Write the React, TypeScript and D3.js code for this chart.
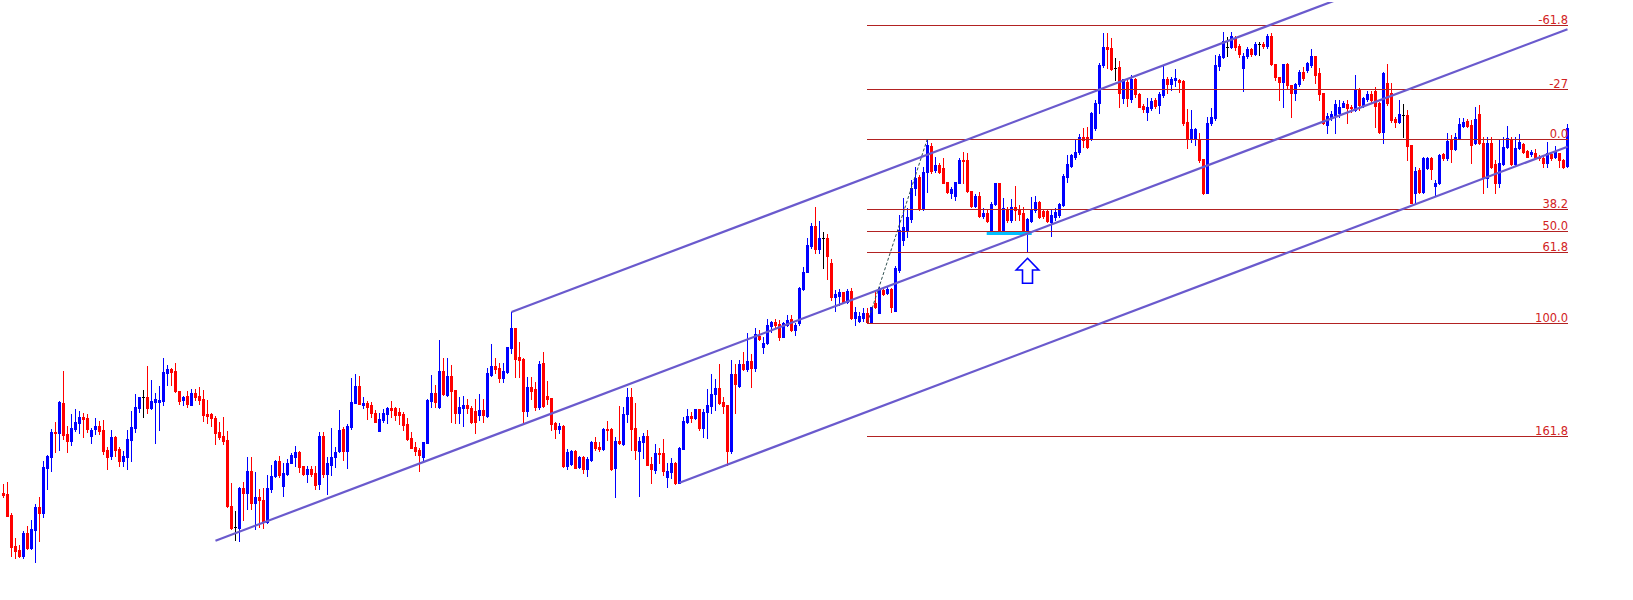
import React from 'react';
import * as d3 from 'd3';

// ---- OHLC data (price units) ----
const open = [
106.7,106,85,54,50,44.3,67.3,52.3,70.3,93,
87.3,132.3,143.3,168.3,167.3,197,166,159.3,170.7,177,
183,181.7,164.3,171.3,173.7,170,150,144.3,163,151,
139.3,143.3,160.3,172.3,192,202.7,202.7,192,198,198,
199,227.3,231,229,209,200,204,195.3,206.7,204,
201,186,186,182,168,164,160,94,72.7,71.7,
112.3,107.3,129,97.3,103,100,78,111.3,124,139,
114.3,126,137.3,143.3,148,134.3,126,131,127,116,
164.3,126,135.3,143.3,149,171,149.3,172.7,197.3,214,
195.3,196.7,195,187.3,169,180,186.3,191.7,191.7,188,
185.7,175.7,162,153,150,143.3,157.3,199,207,193,
229,204.7,224,210,187.3,192.3,195,192.3,189.3,185.3,
190,184.3,225,234,231.7,222.3,228,252.3,272,243.3,
241,189.3,212.7,210.7,192.7,236.7,204,202,177.3,171.3,
174,134,136,149,133.3,143,131,140,158,153,
151.3,171,171,131.7,159,156,185.7,203,172,149.3,
158.3,164,136,130.3,147,147,123,128.3,137,117.3,
151.3,178.3,184,181.7,191,172,187.7,194,206,212.3,
198,195,149.3,226,214,236,231.3,239,232.3,264,
252.7,256.7,274.3,278,276,263.3,275,281.3,270.3,276.7,
311,328.3,354,374,350.7,361.7,361.7,337.3,303.3,304,
307.7,298.3,309.3,281.7,279,282.3,287.3,278,297.3,287.3,
310,307.3,310.7,289.3,330,360,370,381,411.7,422.7,
391.7,428.3,454,430,435,431.7,417.7,407.3,404,417.3,
440,440,409,394,404.3,384.3,386.7,368.3,396,416.7,
366.7,390.7,380,392.7,390.7,386.7,366.7,379.3,390,398.3,
389.3,389.3,378.3,383.3,385,395,423.3,434.3,443.3,447.7,
463.3,463.3,461.7,471.7,496.7,535,553.3,551.7,531.7,532.7,
502.3,518.3,501,521,506,494,488.3,491.7,500,495,
505,520.7,516,520,520,519.3,478,460.7,461.7,461,
440.7,407.3,476.7,481.7,534.3,543.3,553.3,553.3,561.7,554,
532.3,544,550.7,546,555.7,556,554,564,535.7,522.7,
518.3,535.7,515,506.7,516,528.3,530,535,544,526.7,
506.7,475,482.7,485,486.7,493.3,496,492.7,490,510.7,
494,500.7,506,509.3,497.3,468.3,516.7,507.3,481,478.3,
485,485,455,406.7,430,408.3,432.3,442.3,414.3,416.7,
445.7,441.7,460.7,451,462.3,474,479,475,456.7,486,
457.3,421.7,457.3,436,417.3,436,452.7,460.7,436,452.3,
456,449,445.7,447.3,443.3,442.3,437.3,445.7,443.3,446.7,
440,434];

const high = [
116,118,86.7,62,55,69,74,80,96,103,
139,145,171,178,199,229,173.7,186,190.7,189.3,
186.7,186,172,181.7,179,180,153.3,170,164,153.3,
149,170,189.3,206,203.5,210,234,220,206.7,214,
241.7,235,232.3,237,209.3,204,209,211,211.3,212.7,
210.3,200,187.3,184.3,177.7,183,169.3,116.7,89,113.3,
117.7,143.3,143.3,128,111.3,111.7,125,134.7,140,144.3,
136.7,141.3,146.7,154,149,134.3,134.3,134.3,134.3,167.7,
167.7,143.3,172,153.3,190,173.3,176.3,221.7,226,224.3,
202.7,198.7,198.3,190,186.7,190.7,192.7,199,192.7,192.3,
187.7,181.7,168.3,158.3,151.7,158.3,200.7,225,215,260,
241.7,241.7,235,210.5,203.3,204,200.7,194,201,206,
200.7,232.3,256,242.3,236.7,237.3,253.5,288,272.5,258,
241.5,222.7,222.7,218.3,238.7,247.7,219,202.5,178.3,176.7,
175,150.7,150,150,144.3,144,142.7,158.7,163.3,158.3,
171.7,179,171.7,163.3,194,193.3,211.7,211.7,197.3,163.3,
167.3,170,143.3,155.7,152.3,160.7,136.7,141.7,137.7,153.3,
182.7,191,188,191.5,191.5,191,211,226,221,235.7,
202.7,195.5,240,235.7,240,248.3,266.7,246,271.7,270,
263.3,280.7,279,281,280,278.3,285,285,276.7,313,
332.7,362.3,377.3,392.7,379,368.3,365.7,340.7,310,311,
308.3,311,311.7,292.7,287.7,291.7,291.7,293.3,310,313.3,
311.7,312.7,311.7,334,385,402,391.7,420,433.3,425,
433.3,461.5,456.7,443.3,436.7,441.7,418.3,413.3,418.3,441.7,
448,446.7,409.5,406,408.3,391.7,390,398.3,416.7,417,
401.7,392.7,400.7,414.3,395,393.3,381.7,403.3,404,399.3,
391,391,390,392,397,426,445,446,460,465.7,
471.7,472.7,488,500,536.7,566.7,566.7,561.7,541.7,539,
521,521.7,525,521.7,506.7,496,501.7,502,502,508.3,
534,523.3,523,530.7,520.7,520,490.7,490,471.7,466.7,
441,483.3,491.7,545,546,568.3,562.7,568.3,564,556,
546.7,553,552,558,558.3,558,566,566.7,536,523.3,
536,537.3,515.5,517,530,533.3,538.3,551,544.5,531.7,
507.3,486.7,489.3,500,500,499.3,500,495,525,511.7,
503.3,509.3,509.3,513.3,498.3,528.3,535.7,516.7,483.3,500,
496,490,455.5,433.3,431.7,443.3,443.3,443.3,420,446,
446.7,466.7,465,466.7,482.3,481.7,480.7,480,492.7,495,
463.3,463.3,462.7,440,460,463.3,474,463.3,463.3,466,
457.3,450,450,450.7,445,444,458.3,448.3,454,447.3,
440.7,476];

const low = [
103.3,84.3,44,42.3,42.7,42.3,50.7,50.7,38.3,59,
83.3,111.3,129.3,148.3,150,161.3,148.3,154.7,169.3,167,
163.3,168,157.3,166,166,146,131.3,140.7,144.3,134,
134.3,131.3,139.3,168.3,188.3,183.3,187.3,190.7,157.3,170.3,
195.3,215.3,215.3,208.3,196.3,195.3,193.3,195,199.7,196,
179,177.3,174.3,156,160.7,156.3,93.3,70.7,60,59.3,
80,90.7,90.7,70.7,73.3,72.3,76.7,108.3,123.3,123.3,
104.3,125,136.7,134.3,128.3,124.7,118.3,124.3,110.7,110.7,
123.3,106,124.7,133.3,148.3,140,132.3,171.3,197.3,195.7,
192,181.3,183.3,178.3,169,178.3,177.3,183.3,180,176,
170,160,151.7,145,129.3,138.3,156.7,192.7,192.7,191.7,
204.7,204,178.3,177.3,177.3,174,186.7,176.7,166.7,180,
178.3,183.3,224,226.7,218,218,227.3,246.7,223.3,223.3,
177.3,184.3,201,190,190.7,193.5,195.7,170,161.7,166.7,
133.3,130.7,135,131.7,131.7,126.7,124.3,139,150,149.3,
150,160,130,103.3,156,155,178.3,150,140.7,104.3,
142,134.7,117.3,126.7,136.7,124.7,113,122.3,116.3,117.3,
150.7,177.3,178.3,180.7,170,163.3,161.7,186.7,190,195.7,
187.3,135,147.3,186.7,212.7,230,229,212.7,229.3,260,
246.7,256,268.3,273.3,260,262.7,274,269.3,265,275,
310,327.7,352,347,347,332.3,320.7,300,289.3,295,
296.7,296.7,281,275,278,279,277.5,277.5,292,287,
305,306,288.3,289,328,355,363.3,378,405,390,
390,408.3,427,427.7,427.3,416.7,407.3,402.3,400,416.7,
417.3,408.3,393.3,393.3,383.3,381.7,378,367.7,395,366,
366,378,378,380,380,366,348.3,378,388,382,
382,378,364,380,383,394,418,433,441,446,
453.3,452,460,470,486.7,533,531.7,530,520,493.3,
496.7,494,498,503,492.7,488,480,490,492,487.3,
503,506.7,510,514,508.3,475,452.3,458,455,438,
406,406.7,475,480,530,541.7,544,552,550,543,
509.3,542,544,545,545.3,552,552,535,520,500,
492.7,512,482.7,500,514,520,528.3,533.3,516.7,500,
476,466.7,480,466.7,482.7,492.7,477.3,488.3,489.3,490,
492.7,499.3,496.7,473.3,467.3,457.3,495,478.3,473.3,476.7,
463.3,440,396.7,397.3,406.7,407.3,431.3,420.7,404,416,
440,440,438.3,450,461.7,472.7,472.7,437.3,456,456,
407.3,413.3,431.7,406.7,413.3,435,451.7,435,435,451.3,
446.7,442.7,444,440.7,440,433.3,433.3,440,442.3,433.3,
431.7,433.3];

const close = [
105,84.3,53.3,49.3,44.3,67.3,52,71,93,87.3,
133,144.3,168,167.3,198.3,165.3,159.3,172,178,183,
181.3,171,170,174,169.3,149.3,143.3,163,150.3,139.3,
144,161,173,193,203,202.7,192,199,200.7,199.7,
228,230.7,228.3,209,199.3,203,196,207.3,203.3,200,
185,184,182.3,167.3,163,159.3,94.3,71.7,72.7,112.3,
107.3,129,97.3,103,99.7,77.7,112.3,124.3,139.3,125,
127.3,137.3,145.3,148,133.3,126,131,125.7,115.3,164.3,
126,137.3,143,148,170,149,174,198.3,214,195.7,
197.3,193.3,187.3,178.3,181,186.7,191.7,190,185,185,
175,161.3,152.3,149.3,145,157.7,200,207,198.3,229,
206.3,223.7,209,187.3,193.3,195,192.3,178.3,177.7,190,
185.3,227.3,234,231,222.3,229,252.7,272,241,240,
189.3,212.7,209.3,192.7,236,194.5,201,176,171.3,174,
134.3,148,149,132.3,143,131.3,141,158,152.3,151,
171,170.3,131.3,159,156.7,186,202.7,171,150,159,
164,135.3,131,147,146.3,128.7,129,137,117,152,
179.3,184,181.7,191,171.7,188.3,195,206,212.3,197.3,
194,149.3,226,215.7,236,231.3,239,232.3,266,261,
257,275,278,275,263.3,276.7,280,270.3,275,312.3,
328.3,355,374,350.7,361.7,361.7,344.3,303.3,306,308.3,
298.3,309.3,281.7,287.7,284.3,287.3,278,292.7,293.3,310.7,
305.7,310.7,293.3,331.7,370,373,383.3,411.7,421.7,391.7,
428.3,455,429.3,435,428.3,417.3,408.3,410.7,417.7,440,
439,409,394.3,404.3,384.3,386.7,379.3,396,416.5,366.7,
391.7,380,392.7,390,386,366.7,380.7,390.7,398.3,383.3,
384.3,379.3,385,388.3,396,424,435.7,445,448.3,463.3,
460,453.3,486.7,496.7,535,553.3,550.7,531,531.7,506.7,
520.7,501.7,521,506,493.3,490.7,492.7,499,494,506,
520.7,516,520.7,521.7,517.7,477.3,460.7,471,471,440,
406.7,476.7,482.7,535,544,559.3,553.3,564,552.7,546,
544,550.7,546,556,555.7,554,564,535.7,522.7,518,
535.7,515,506.7,516,528.3,521.7,536.7,544,525,506,
476.7,484,486,496,492.7,496.7,491.7,491.7,510.7,495,
502.3,506,500,494,468.3,526.7,496.7,480,478.3,486,
485,454,397.3,429.3,408.3,442.3,442.3,431.3,417.3,445,
441.7,459.3,451,463.3,476,478.3,474,455.3,480.7,456.7,
421.7,457.3,433.3,417.3,436.7,453.3,461.7,436,452.3,457.7,
448.3,443.3,448.3,442.3,441.7,437.3,446.7,441.7,448.3,440,
433.3,471.7];

// ---- Fibonacci retracement ----
const fibRatios = [-61.8, -27, 0, 38.2, 50, 61.8, 100, 161.8];
const fibLabels = ['-61.8', '-27', '0.0', '38.2', '50.0', '61.8', '100.0', '161.8'];
const fibAnchorLow = { i: 216, p: 277.5 };
const fibAnchorHigh = { i: 231, p: 461.5 };

// ---- Equidistant channel ----
const channelMid = [{ i: 53, p: 59.3 }, { i: 391, p: 570.8 }];
const channelUpperStart = { i: 127, p: 288 };
const channelLowerStart = { i: 169, p: 117.3 };

// ---- Other objects ----
const supportLine = { i0: 246, i1: 257, p: 366.5 };
const arrowMark = { i: 256, p: 341.7 };

const W = 1633;
const H = 600;

const BULL = '#0000FF';
const BEAR = '#FF0000';
const CHANNEL = '#6A5ACD';
const FIB_LINE = '#B22222';
const FIB_TEXT = '#D22323';

export default function App() {
  const n = open.length;
  const x = d3.scaleLinear().domain([0, n - 1]).range([3.5, 1567.5]);
  const y = d3.scaleLinear().domain([0, 600]).range([H, 0]);
  const ry = (p: number) => Math.round(y(p));

  const candles = d3.range(n).map((i) => {
    const o = open[i], c = close[i];
    const h = Math.max(high[i], o, c);
    const l = Math.min(low[i], o, c);
    const cx = x(i);
    const color = c > o ? BULL : c < o ? BEAR : '#000000';
    const top = ry(Math.max(o, c));
    const bot = ry(Math.min(o, c));
    const wt = ry(h);
    const wb = ry(l);
    return (
      <g key={i} fill={color}>
        <rect x={cx - 0.5} y={wt} width={1} height={Math.max(1, wb - wt + 1)} />
        <rect x={cx - 1.5} y={top} width={3} height={Math.max(1, bot - top + (c === o ? 0 : 1))} />
      </g>
    );
  });

  const fibRange = fibAnchorHigh.p - fibAnchorLow.p;
  const fibX0 = x(fibAnchorLow.i) - 0.8;
  const fibX1 = 1568;

  const slope = (channelMid[1].p - channelMid[0].p) / (channelMid[1].i - channelMid[0].i);
  const midAt = (i: number) => channelMid[0].p + slope * (i - channelMid[0].i);
  const upOff = channelUpperStart.p - midAt(channelUpperStart.i);
  const loOff = channelLowerStart.p - midAt(channelLowerStart.i);
  const lastI = n - 1;
  const chan = [
    { i0: channelMid[0].i, off: 0 },
    { i0: channelUpperStart.i, off: upOff },
    { i0: channelLowerStart.i, off: loOff },
  ];

  const ax = x(arrowMark.i);
  const at = y(arrowMark.p);
  const arrowPts = [
    [ax, at], [ax + 11.3, at + 11.7], [ax + 5, at + 11.7], [ax + 5, at + 25],
    [ax - 5, at + 25], [ax - 5, at + 11.7], [ax - 11.3, at + 11.7],
  ].map((p) => p.join(',')).join(' ');

  return (
    <svg
      width={W}
      height={H}
      style={{ position: 'fixed', left: 0, top: 0, background: '#ffffff', display: 'block' }}
    >
      <defs>
        <clipPath id="plot">
          <rect x={0} y={2} width={1568.5} height={598} />
        </clipPath>
      </defs>
      <rect x={0} y={0} width={W} height={H} fill="#ffffff" />
      <g shapeRendering="crispEdges">{candles}</g>

      {/* support line */}
      <line
        x1={x(supportLine.i0) - 0.8}
        x2={x(supportLine.i1) + 0.2}
        y1={y(supportLine.p)}
        y2={y(supportLine.p)}
        stroke="#00BFFF"
        strokeWidth={3}
      />

      {/* fib levels */}
      <g>
        {fibRatios.map((r, k) => {
          const p = fibAnchorHigh.p - (r / 100) * fibRange;
          const ly = Math.round(y(p)) + 0.5;
          return (
            <g key={k}>
              <line x1={fibX0} x2={fibX1} y1={ly} y2={ly} stroke={FIB_LINE} strokeWidth={1} shapeRendering="crispEdges" />
              <text
                x={fibX1}
                y={ly - 2}
                textAnchor="end"
                fontFamily="'DejaVu Sans', Verdana, sans-serif"
                fontSize={11.5}
                fill={FIB_TEXT}
              >
                {fibLabels[k]}
              </text>
            </g>
          );
        })}
      </g>

      {/* dashed trend line between fib anchors */}
      <line
        x1={x(fibAnchorLow.i)}
        y1={y(fibAnchorLow.p)}
        x2={x(fibAnchorHigh.i)}
        y2={y(fibAnchorHigh.p)}
        stroke="#2F4F4F"
        strokeWidth={1}
        strokeDasharray="3 2"
      />

      {/* channel */}
      <g clipPath="url(#plot)">
        {chan.map((c, k) => (
          <line
            key={k}
            x1={x(c.i0)}
            y1={y(midAt(c.i0) + c.off)}
            x2={x(lastI)}
            y2={y(midAt(lastI) + c.off)}
            stroke={CHANNEL}
            strokeWidth={2.2}
          />
        ))}
      </g>

      {/* arrow */}
      <polygon points={arrowPts} fill="#ffffff" stroke="#0000FF" strokeWidth={1.6} strokeLinejoin="miter" />
    </svg>
  );
}
